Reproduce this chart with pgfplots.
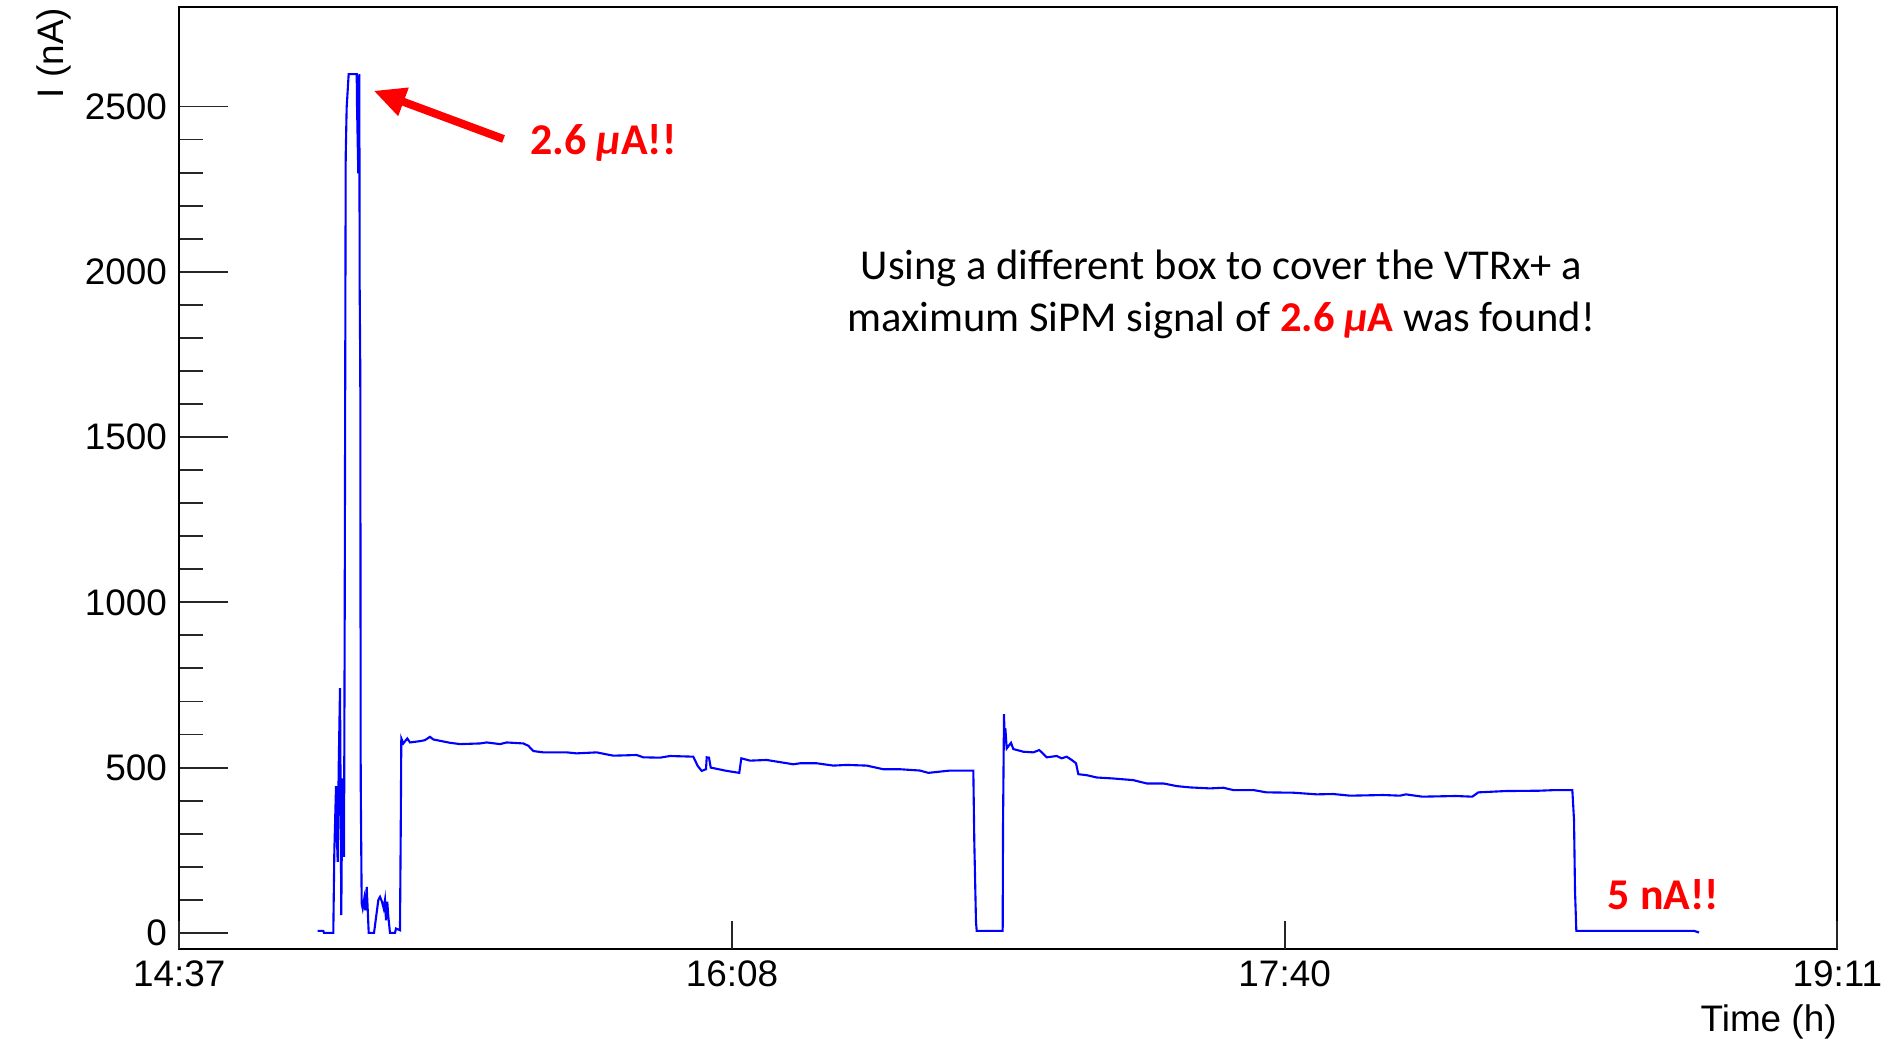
\documentclass[border=0pt]{standalone}
\usepackage{fontspec}
\setmainfont{Liberation Sans}
\newfontfamily\calibri{Carlito}
\usepackage{pgfplots}
\pgfplotsset{compat=1.18}
\usetikzlibrary{arrows.meta}

% SiPM current vs time, t in minutes after 14:37
\pgfplotstableread{
t I
22.87 6
23.80 6
23.91 0
25.45 0
25.62 245
25.90 444
26.01 306
26.18 215
26.34 498
26.56 740
26.77 54
26.94 467
27.10 286
27.22 230
27.33 921
27.50 2349
27.66 2497
27.99 2598
29.32 2598
29.37 2505
29.58 2298
29.75 2598
29.81 1950
29.91 1698
29.98 462
30.14 89
30.31 74
30.57 104
30.74 68
30.97 139
31.13 74
31.30 0
32.18 0
32.89 99
33.17 109
33.50 94
33.78 74
33.99 99
34.16 38
34.37 94
34.54 50
34.82 0
35.65 0
35.81 13
36.47 8
36.59 296
36.69 588
37.02 573
37.68 588
38.13 576
39.78 580
40.60 583
41.43 593
41.98 585
43.08 581
44.74 575
46.39 571
49.69 573
50.80 576
53.00 571
54.11 576
56.85 573
57.68 566
58.50 550
60.15 546
64.02 546
65.67 543
68.98 546
71.72 536
75.59 538
76.68 531
79.44 530
81.09 535
84.94 533
85.67 505
86.33 490
87.04 495
87.16 531
87.54 530
87.82 500
90.46 490
92.54 484
92.88 528
94.31 521
97.07 523
101.47 510
102.58 513
105.34 513
108.08 506
110.29 508
113.60 506
116.34 495
119.10 495
122.41 491
123.78 484
127.37 491
131.22 491
131.38 276
131.66 33
131.78 6
136.07 6
136.13 331
136.29 662
136.41 573
136.51 619
136.74 558
137.45 575
137.83 556
139.48 548
141.13 546
142.12 553
143.35 531
145.00 535
145.82 528
146.65 533
147.48 523
148.19 513
148.57 480
149.96 477
151.61 470
154.36 467
157.66 462
159.87 452
162.62 452
164.83 444
167.03 440
170.33 437
172.53 439
174.18 432
177.49 432
179.69 425
184.10 424
187.96 419
190.71 420
193.47 415
198.97 417
201.73 415
202.68 419
205.42 412
210.94 414
213.68 412
214.67 425
219.20 429
224.70 430
227.46 432
230.21 432
230.49 341
230.65 129
230.87 6
250.32 6
251.15 1
}\sipm

\begin{document}
\begin{tikzpicture}
\useasboundingbox (-17.93mm,-8.93mm) rectangle (170.97mm,94.87mm);
% frame, y axis and data
\begin{axis}[
  at={(0,0)}, anchor=south west,
  scale only axis, width=165.8mm, height=94.14mm,
  xmin=0, xmax=274, ymin=-48, ymax=2800,
  axis line style={line width=0.55pt},
  tick align=inside, tick pos=left,
  xtick=\empty,
  ytick={0,500,...,2500}, minor y tick num=4,
  major tick length=4.9mm, minor tick length=2.4mm,
  tick style={line width=0.55pt, black!85},
  scaled y ticks=false,
  /pgf/number format/1000 sep={},
  /pgf/number format/assume math mode=true,
  yticklabel style={font=\fontsize{10.5}{12}\selectfont},
  ylabel={I (nA)},
  ylabel style={at={(axis description cs:-0.07,1)}, anchor=base east,
    inner sep=0pt, font=\fontsize{10.5}{12}\selectfont},
]
\addplot[color=blue, line width=0.6pt, sharp plot, no marks] table[x=t, y=I] {\sipm};
\end{axis}
% x axis ticks (shorter than y ticks)
\begin{axis}[
  at={(0,0)}, anchor=south west,
  scale only axis, width=165.8mm, height=94.14mm,
  xmin=0, xmax=274, ymin=-48, ymax=2800,
  axis line style={draw=none},
  tick align=inside, tick pos=left,
  ytick=\empty,
  xtick={0,91.3333,182.6667,274},
  xticklabels={14:37,16:08,17:40,19:11},
  minor x tick num=4,
  major tick length=2.8mm, minor tick length=1.4mm,
  tick style={line width=0.55pt, black!85},
  xticklabel style={font=\fontsize{10.5}{12}\selectfont},
  xlabel={Time (h)},
  xlabel style={at={(axis description cs:1,0)}, anchor=base east,
    yshift=-8.3mm, inner sep=0pt, font=\fontsize{10.5}{12}\selectfont},
]
\end{axis}
% annotations
\draw[red, line width=0.8mm, -{Triangle[length=3.2mm,width=2.8mm]}]
  (32.42mm,80.97mm) -- (19.42mm,85.8mm);
\node[anchor=west, text=red, inner sep=0pt,
  font=\calibri\bfseries\fontsize{12.5}{15}\selectfont] at (35.07mm,80.57mm) {2.6 \textit{μ}A!!};
\node[align=center, font=\calibri\fontsize{12.1}{14.7}\selectfont] at (104.2mm,65.45mm)
  {Using a different box to cover the VTRx+ a\\maximum SiPM signal of {\color{red}\bfseries 2.6 \textit{μ}A} was found!};
\node[text=red, font=\calibri\bfseries\fontsize{12.5}{15}\selectfont] at (148.4mm,5.37mm) {5 nA!!};
\end{tikzpicture}
\end{document}
